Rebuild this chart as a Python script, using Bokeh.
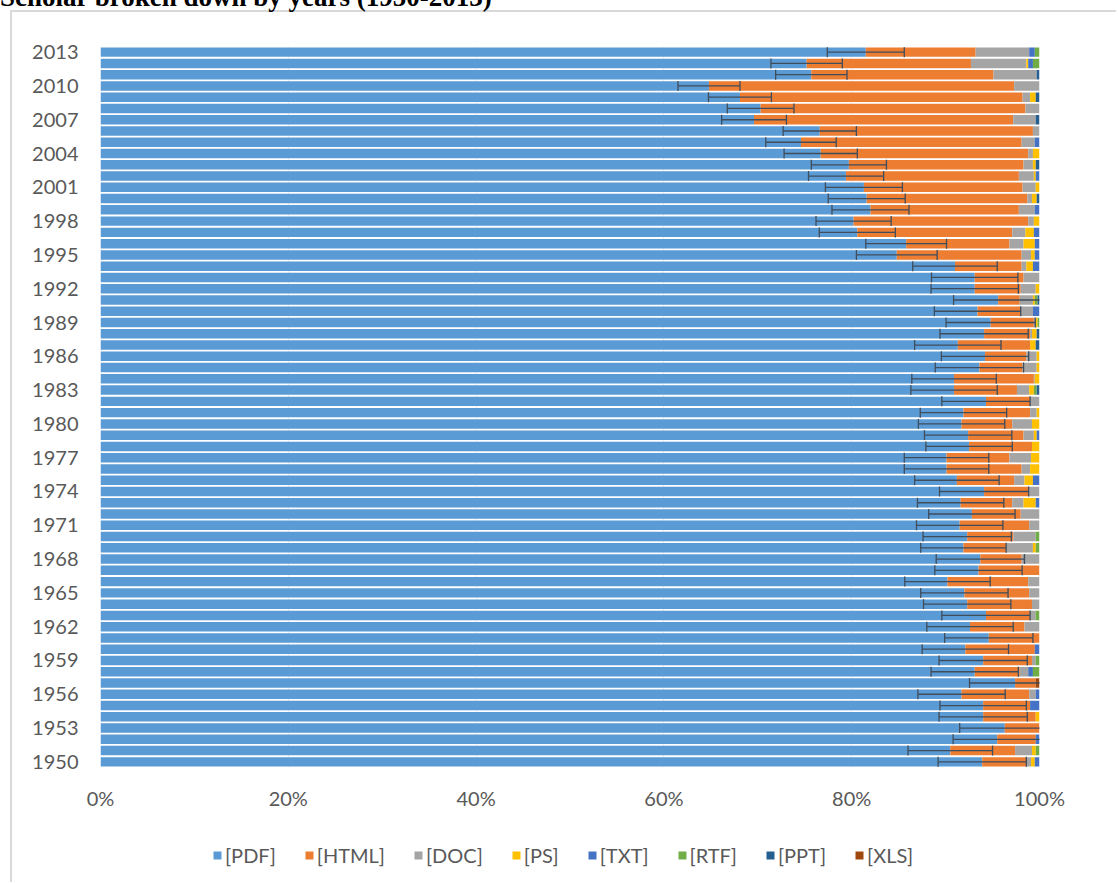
from bokeh.plotting import figure
from bokeh.layouts import column
from bokeh.models import (ColumnDataSource, Whisker, TeeHead, Legend, LegendItem,
                          FixedTicker, NumeralTickFormatter, Range1d, Div)
from bokeh.embed import file_html
from bokeh.resources import INLINE

# Years listed from top (2013) to bottom (1950)
years = list(range(2013, 1949, -1))

# Shares in percent, same order as years
pdf = [81.5, 75.2, 75.7, 64.8, 68.1, 70.3, 69.6, 76.6, 74.6, 76.7,
       79.7, 79.4, 81.3, 81.6, 82.0, 80.2, 80.6, 85.8, 84.8, 91.0,
       93.1, 93.1, 95.6, 93.4, 94.8, 94.1, 91.3, 94.2, 93.6, 90.9,
       90.9, 94.3, 91.9, 91.7, 92.4, 92.5, 90.1, 90.1, 91.2, 94.1,
       91.6, 92.8, 91.5, 92.3, 91.9, 93.7, 93.5, 90.2, 92.0, 92.3,
       94.3, 92.6, 94.6, 92.1, 94.0, 93.1, 97.4, 91.7, 94.0, 94.0,
       96.3, 95.5, 90.5, 93.9]
html = [11.7, 17.5, 19.4, 32.5, 30.1, 28.2, 27.6, 22.7, 23.5, 22.1,
        18.6, 18.4, 16.9, 17.1, 15.8, 18.6, 16.5, 11.0, 13.3, 7.1,
        5.2, 4.9, 2.3, 4.6, 4.6, 4.9, 7.7, 4.4, 4.6, 8.5,
        6.7, 4.7, 7.1, 5.4, 5.9, 6.7, 6.7, 8.0, 6.1, 4.8,
        5.5, 5.2, 7.4, 4.9, 4.6, 4.4, 6.5, 8.6, 6.9, 6.9,
        4.7, 5.8, 5.4, 7.4, 5.2, 4.8, 2.2, 7.2, 5.0, 5.6,
        3.7, 4.1, 6.9, 4.7]
doc = [5.7, 5.9, 4.6, 2.7, 0.8, 1.5, 2.4, 0.7, 1.4, 0.5,
       1.0, 1.6, 1.4, 0.5, 1.7, 0.6, 1.4, 1.5, 1.0, 0.5,
       1.7, 1.6, 1.4, 1.3, 0.2, 0.2, 0.0, 1.1, 1.5, 0.1,
       1.3, 1.0, 0.7, 2.1, 1.1, 0.0, 2.3, 0.9, 1.1, 1.1,
       1.2, 2.0, 1.1, 2.4, 2.8, 1.9, 0.0, 1.2, 1.1, 0.8,
       0.6, 1.6, 0.0, 0.0, 0.4, 0.9, 0.0, 0.7, 0.0, 0.0,
       0.0, 0.0, 1.8, 0.5]
ps = [0.0, 0.2, 0.0, 0.0, 0.6, 0.0, 0.0, 0.0, 0.0, 0.7,
      0.3, 0.2, 0.4, 0.5, 0.0, 0.6, 0.9, 1.2, 0.4, 0.7,
      0.0, 0.4, 0.2, 0.0, 0.2, 0.5, 0.6, 0.3, 0.3, 0.5,
      0.5, 0.0, 0.3, 0.8, 0.3, 0.8, 0.9, 1.0, 0.9, 0.0,
      1.3, 0.0, 0.0, 0.0, 0.3, 0.0, 0.0, 0.0, 0.0, 0.0,
      0.0, 0.0, 0.0, 0.0, 0.0, 0.0, 0.0, 0.0, 0.0, 0.4,
      0.0, 0.0, 0.4, 0.4]
txt = [0.6, 0.5, 0.0, 0.0, 0.0, 0.0, 0.0, 0.0, 0.5, 0.0,
       0.0, 0.4, 0.0, 0.0, 0.5, 0.0, 0.6, 0.5, 0.5, 0.7,
       0.0, 0.0, 0.0, 0.7, 0.0, 0.0, 0.0, 0.0, 0.0, 0.0,
       0.0, 0.0, 0.0, 0.0, 0.3, 0.0, 0.0, 0.0, 0.7, 0.0,
       0.4, 0.0, 0.0, 0.0, 0.0, 0.0, 0.0, 0.0, 0.0, 0.0,
       0.0, 0.0, 0.0, 0.5, 0.0, 0.5, 0.0, 0.4, 1.0, 0.0,
       0.0, 0.4, 0.0, 0.5]
rtf = [0.5, 0.7, 0.0, 0.0, 0.0, 0.0, 0.0, 0.0, 0.0, 0.0,
       0.0, 0.0, 0.0, 0.0, 0.0, 0.0, 0.0, 0.0, 0.0, 0.0,
       0.0, 0.0, 0.3, 0.0, 0.2, 0.0, 0.0, 0.0, 0.0, 0.0,
       0.3, 0.0, 0.0, 0.0, 0.0, 0.0, 0.0, 0.0, 0.0, 0.0,
       0.0, 0.0, 0.0, 0.4, 0.4, 0.0, 0.0, 0.0, 0.0, 0.0,
       0.4, 0.0, 0.0, 0.0, 0.4, 0.7, 0.0, 0.0, 0.0, 0.0,
       0.0, 0.0, 0.4, 0.0]
ppt = [0.0, 0.0, 0.3, 0.0, 0.4, 0.0, 0.4, 0.0, 0.0, 0.0,
       0.4, 0.0, 0.0, 0.3, 0.0, 0.0, 0.0, 0.0, 0.0, 0.0,
       0.0, 0.0, 0.2, 0.0, 0.0, 0.3, 0.4, 0.0, 0.0, 0.0,
       0.3, 0.0, 0.0, 0.0, 0.0, 0.0, 0.0, 0.0, 0.0, 0.0,
       0.0, 0.0, 0.0, 0.0, 0.0, 0.0, 0.0, 0.0, 0.0, 0.0,
       0.0, 0.0, 0.0, 0.0, 0.0, 0.0, 0.0, 0.0, 0.0, 0.0,
       0.0, 0.0, 0.0, 0.0]
xls = [0.0] * 56 + [0.4] + [0.0] * 7

# Error bar half-widths (percent), around the PDF share
err = [4.1, 3.8, 3.8, 3.3, 3.35, 3.55, 3.45, 3.9, 3.75, 3.9,
       4.0, 4.0, 4.1, 4.1, 4.1, 4.0, 4.05, 4.3, 4.3, 4.5,
       4.6, 4.65, 4.75, 4.6, 4.75, 4.7, 4.6, 4.65, 4.7, 4.5,
       4.6, 4.7, 4.6, 4.6, 4.65, 4.6, 4.5, 4.5, 4.5, 4.75,
       4.6, 4.6, 4.6, 4.7, 4.55, 4.7, 4.65, 4.55, 4.65, 4.65,
       4.7, 4.6, 4.7, 4.6, 4.7, 4.65, 4.85, 4.65, 4.6, 4.7,
       4.8, 4.7, 4.5, 4.7]

labels = ["[PDF]", "[HTML]", "[DOC]", "[PS]", "[TXT]", "[RTF]", "[PPT]", "[XLS]"]
colors = ["#5B9BD5", "#ED7D31", "#A5A5A5", "#FFC000", "#4472C4", "#70AD47", "#255E91", "#9E480E"]
keys = ["pdf", "html", "doc", "ps", "txt", "rtf", "ppt", "xls"]
series = [pdf, html, doc, ps, txt, rtf, ppt, xls]
x_ticks = [0, 0.2, 0.4, 0.6, 0.8, 1.0]
y_ticks = list(range(1950, 2014, 3))
title_text = "Scholar broken down by years (1950-2013)"

data = {"year": years}
for k, arr in zip(keys, series):
    data[k] = [v / 100.0 for v in arr]
data["lo"] = [(a - e) / 100.0 for a, e in zip(pdf, err)]
data["hi"] = [(a + e) / 100.0 for a, e in zip(pdf, err)]
src = ColumnDataSource(data)

# ---- main chart ----
p = figure(width=1116, height=818, output_backend="svg", toolbar_location=None,
           x_range=Range1d(0, 1), y_range=Range1d(1949.5, 2013.5),
           min_border_left=100, min_border_right=77, min_border_top=46, min_border_bottom=51)
p.outline_line_color = None
p.background_fill_color = "white"
p.border_fill_color = None

renderers = p.hbar_stack(keys, y="year", height=0.84, fill_color=colors,
                         line_color=None, source=src)

tee = dict(size=10, line_color="#3F4D5C", line_width=1.3)
w = Whisker(source=src, base="year", lower="lo", upper="hi", dimension="width",
            line_color="#3F4D5C", line_width=1.3, level="annotation",
            upper_head=TeeHead(**tee), lower_head=TeeHead(**tee))
p.add_layout(w)

for ax in (p.xaxis, p.yaxis):
    ax.axis_line_color = None
    ax.major_tick_line_color = None
    ax.minor_tick_line_color = None
    ax.major_tick_out = 0
    ax.major_tick_in = 0
    ax.major_label_text_font = "Lato"
    ax.major_label_text_font_size = "20px"
    ax.major_label_text_color = "#595959"
p.xaxis.ticker = FixedTicker(ticks=x_ticks)
p.xaxis.formatter = NumeralTickFormatter(format="0%")
p.xaxis.major_label_standoff = 18
p.yaxis.ticker = FixedTicker(ticks=y_ticks)
p.yaxis.major_label_standoff = 22
p.xgrid.grid_line_color = "#EDEDED"
p.ygrid.grid_line_color = None

# ---- legend strip (swatches come from off-range copies of the bar glyph) ----
pl = figure(width=1116, height=64, output_backend="svg", toolbar_location=None,
            x_range=Range1d(0, 1), y_range=Range1d(0, 1),
            x_axis_location=None, y_axis_location=None,
            min_border_left=0, min_border_right=0, min_border_top=0, min_border_bottom=0)
pl.outline_line_color = None
pl.background_fill_color = None
pl.border_fill_color = None
pl.grid.visible = False
leg_renderers = [pl.hbar(y=[-5], right=[-5], height=0.5, fill_color=c, line_color=None)
                 for c in colors]
items = [LegendItem(label=l, renderers=[r]) for l, r in zip(labels, leg_renderers)]
legend = Legend(items=items, orientation="horizontal", location=(112, 15),
                glyph_width=10, glyph_height=10, label_standoff=3, spacing=28,
                padding=0, margin=0, border_line_color=None, background_fill_alpha=0,
                label_text_font="Lato", label_text_font_size="20px",
                label_text_color="#595959", label_height=20)
pl.add_layout(legend)

# ---- title (cut off at the top edge, as in the original screenshot) ----
title = Div(text=('<div style="font-family:\'Liberation Serif\';font-weight:bold;'
                  'font-size:27px;line-height:27px;white-space:nowrap;color:black;">'
                  + title_text + '</div>'),
            width=1100, height=27, margin=0,
            styles={"margin-top": "-16px", "margin-bottom": "-11px", "margin-left": "0px"})

layout = column(title, p, pl, spacing=0,
                styles={"background-color": "white",
                        "background-image": "linear-gradient(#D9D9D9,#D9D9D9), linear-gradient(#D9D9D9,#D9D9D9)",
                        "background-size": "2px 2000px, 2000px 2px",
                        "background-position": "10px 10px, 10px 10px",
                        "background-repeat": "no-repeat"})

open("out.html", "w").write(file_html(layout, INLINE))
